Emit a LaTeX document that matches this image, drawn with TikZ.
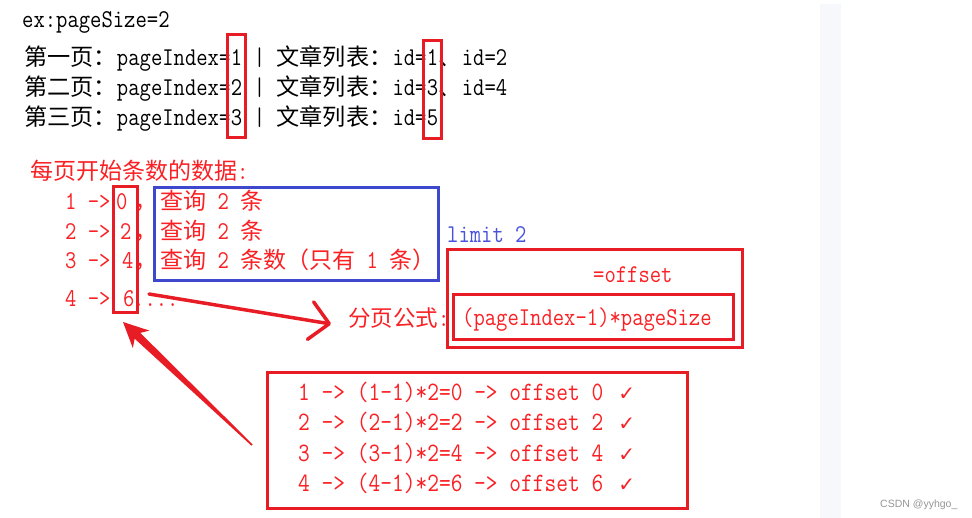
\documentclass[tikz,border=0pt]{standalone}
\usepackage{fontspec}
\newfontfamily\zhfont{Noto Sans CJK SC}
\newfontfamily\wmfont{Liberation Sans}
\newfontfamily\symfont{DejaVu Sans}
\newfontfamily\lmono{Latin Modern Mono}[FakeStretch=0.86]
\usetikzlibrary{arrows.meta}
\definecolor{txtred}{RGB}{250,32,36}
\definecolor{boxred}{RGB}{232,28,36}
\definecolor{boxblue}{RGB}{62,72,205}
\definecolor{txtblue}{RGB}{72,82,220}
\definecolor{stripcol}{RGB}{247,248,252}
\newcommand\zh[1]{{\fontsize{23.2pt}{24pt}\selectfont\zhfont #1}}
\newcommand\zr[1]{{\fontsize{23pt}{24pt}\selectfont\zhfont #1}}
\newcommand\ck{\hspace{15pt}{\fontsize{20pt}{22pt}\selectfont\symfont ✓}}
\begin{document}
\begin{tikzpicture}[x=1pt,y=-1pt,
  txt/.style={anchor=base west, inner sep=0pt, font=\fontsize{25.6pt}{26pt}\selectfont\lmono},
  txtb/.style={anchor=base west, inner sep=0pt, font=\fontsize{26.5pt}{27pt}\selectfont\lmono},
  rtxt/.style={txt, text=txtred},
  rbox/.style={draw=boxred, line width=3pt, inner sep=0pt, rectangle},
  bbox/.style={draw=boxblue, line width=3pt, inner sep=0pt, rectangle},
  redarrow/.style={draw=boxred, line width=3.5pt, line cap=round, -{Straight Barb[length=19pt,width=38pt,round]}}]
\useasboundingbox (0,0) rectangle (972,518);
\fill[white] (0,0) rectangle (972,518);
\fill[stripcol] (820,4) rectangle (841,518);

% top black text
\node[txt] (ex) at (22,27.5) {ex:pageSize=2};
\node[txt] (l1a) at (24,65.4) {\zh{第一页：}pageIndex=};
\node[txt] (l1d) at (l1a.base east) {1};
\node[txt] (l1b) at (l1d.base east) {\ |\ \zh{文章列表：}id=};
\node[txt] (l1e) at (l1b.base east) {1};
\node[txt] (l1c) at (l1e.base east) {\zh{、}id=2};
\node[txt] (l2a) at (24,95.7) {\zh{第二页：}pageIndex=};
\node[txt] (l2d) at (l2a.base east) {2};
\node[txt] (l2b) at (l2d.base east) {\ |\ \zh{文章列表：}id=};
\node[txt] (l2e) at (l2b.base east) {3};
\node[txt] (l2c) at (l2e.base east) {\zh{、}id=4};
\node[txt] (l3a) at (24,125.7) {\zh{第三页：}pageIndex=};
\node[txt] (l3d) at (l3a.base east) {3};
\node[txt] (l3b) at (l3d.base east) {\ |\ \zh{文章列表：}id=};
\node[txt] (l3e) at (l3b.base east) {5};
\coordinate (py) at (0,86.5);
\coordinate (iy) at (0,89.3);
\node[rbox, minimum width=18pt, minimum height=103pt] (pbox) at (l1d.center |- py) {};
\node[rbox, minimum width=18pt, minimum height=97.5pt] (ibox) at (l1e.center |- iy) {};

% red heading and rows
\node[rtxt] (head) at (30,180) {\zr{每页开始条数的数据}:};
\node[rtxt] (r1) at (65,210) {1 ->};
\node[rtxt] (r2) at (65,240) {2 ->};
\node[rtxt] (r3) at (65,269) {3 ->};
\node[rtxt] (r4) at (65,307) {4 ->};
\node[rtxt] (d1) at (116,210) {0};
\node[rtxt] (d2) at (120,240) {2};
\node[rtxt] (d3) at (122,269) {4};
\node[rtxt] (d4) at (123,307) {6};
\node[rtxt] (c1) at (134,210) {\zr{，}};
\node[rtxt] (c2) at (134,240) {\zr{，}};
\node[rtxt] (c3) at (134,269) {\zr{，}};
\node[rtxt] (dots) at (133,307) {....};
\node[rtxt] (q1) at (160,210) {\zr{查询} 2 \zr{条}};
\node[rtxt] (q2) at (160,240) {\zr{查询} 2 \zr{条}};
\node[rtxt] (q3) at (160,269) {\zr{查询} 2 \zr{条数（只有} 1 \zr{条）}};
\node[rbox, minimum width=24pt, minimum height=126pt] (dbox) at (125,250) {};
\node[bbox, minimum width=284pt, minimum height=93pt] (qbox) at (296,234.5) {};

% formula area
\node[txt, text=txtblue] (lim) at (447,243) {limit 2};
\node[rbox, minimum width=295pt, minimum height=98pt] (obox) at (594.5,299) {};
\node[rtxt] (off) at (593,283) {=offset};
\node[rbox, minimum width=280pt, minimum height=45pt] (fbox) at (593,317.5) {};
\node[rtxt] (flabel) at (348,327) {{\fontsize{22.5pt}{24pt}\selectfont\zhfont 分页公式}:};
\node[rtxt] (form) at (462,326) {(pageIndex-1)*pageSize};

% bottom box
\node[rbox, minimum width=420pt, minimum height=135pt] (bbx) at (477,440.5) {};
\node[txtb, text=txtred] (e1) at (298,401) {1 -> (1-1)*2=0 -> offset 0\ck};
\node[txtb, text=txtred] (e2) at (298,431) {2 -> (2-1)*2=2 -> offset 2\ck};
\node[txtb, text=txtred] (e3) at (298,461) {3 -> (3-1)*2=4 -> offset 4\ck};
\node[txtb, text=txtred] (e4) at (298,491) {4 -> (4-1)*2=6 -> offset 6\ck};

% arrows
\coordinate (a1s) at (149,294);
\coordinate (a1e) at (331,324);
\draw[redarrow] (a1s) -- (a1e);
\coordinate (a2tip) at (123,322);
\coordinate (a2tail) at (252,445);
\fill[boxred] (a2tip) -- (149.4,330.6) -- (140.3,332.9) -- (252.6,444.4) -- (251.4,445.6) -- (134.7,338.7) -- (132.8,348.0) -- cycle;

% watermark
\node[anchor=base west, inner sep=0pt, font=\fontsize{10.5pt}{12pt}\selectfont\wmfont, text={rgb,255:red,150;green,150;blue,150}] (wm) at (880,507) {CSDN @yyhgo\_};
\end{tikzpicture}
\end{document}
